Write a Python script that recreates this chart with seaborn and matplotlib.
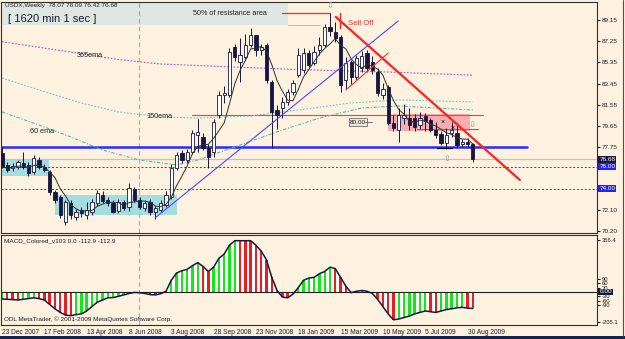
import numpy as np
import pandas as pd
import matplotlib
matplotlib.use('Agg')
import matplotlib.pyplot as plt
from matplotlib.patches import Rectangle
import seaborn as sns

# weekly USDX candles, 23 Dec 2007 .. 6 Sep 2009
opens = [77.2, 76.15, 75.9, 76.0, 76.3, 76.15, 75.5, 76.6, 76.0, 75.5,
         73.7, 73.3, 71.0, 72.7, 71.5, 72.1, 71.7, 71.9, 72.7, 73.5,
         73.0, 72.75, 72.0, 72.8, 72.4, 74.0, 73.0, 72.3, 72.8, 71.95,
         72.1, 72.6, 73.3, 75.9, 77.2, 76.6, 77.3, 78.85, 78.7, 77.7,
         77.3, 80.6, 82.4, 82.4, 86.7, 85.4, 85.8, 86.9, 87.8, 86.5,
         86.9, 83.6, 81.1, 81.3, 81.8, 82.7, 84.2, 84.7, 86.2, 85.3,
         86.5, 86.9, 88.5, 88.1, 87.6, 83.8, 85.4, 84.0, 84.8, 86.2,
         85.4, 84.5, 82.4, 83.1, 79.9, 79.3, 80.4, 80.4, 80.35, 79.7,
         80.5, 80.2, 79.3, 78.9, 78.1, 79.0, 79.05, 78.05, 78.2, 78.07]
highs = [77.8, 76.4, 76.3, 76.6, 77.3, 76.4, 77.0, 76.9, 76.2, 75.7,
         73.9, 73.5, 73.0, 73.0, 72.2, 72.4, 72.8, 73.1, 73.9, 73.8,
         73.3, 73.0, 73.1, 73.0, 74.5, 74.2, 73.3, 73.0, 73.1, 72.5,
         73.0, 73.8, 76.2, 77.3, 77.5, 77.6, 79.3, 80.3, 79.0, 78.0,
         80.3, 82.8, 83.2, 86.6, 87.0, 87.5, 87.9, 88.4, 87.8, 87.0,
         87.1, 83.8, 81.5, 82.2, 83.0, 83.8, 86.6, 86.6, 86.5, 86.8,
         87.6, 88.8, 89.8, 89.0, 87.8, 85.8, 85.6, 86.0, 86.4, 86.5,
         85.9, 84.8, 83.5, 83.3, 80.6, 81.3, 81.6, 81.3, 80.7, 80.9,
         80.8, 80.4, 80.0, 79.2, 79.5, 80.0, 79.8, 78.5, 78.6, 78.09]
lows = [75.9, 75.5, 75.6, 75.8, 75.8, 75.2, 75.3, 75.8, 75.5, 73.5,
        72.7, 71.4, 70.8, 71.3, 71.2, 71.5, 71.3, 71.7, 72.5, 72.7,
        72.5, 71.8, 71.8, 72.1, 72.0, 72.8, 72.2, 72.0, 71.7, 71.3,
        71.9, 72.4, 73.1, 75.7, 76.3, 76.3, 77.1, 77.3, 77.5, 75.9,
        76.9, 80.4, 81.7, 82.2, 85.5, 83.6, 85.6, 86.7, 85.9, 86.0,
        83.5, 77.7, 79.4, 80.4, 81.5, 82.4, 84.0, 84.4, 84.9, 85.1,
        86.0, 86.7, 87.7, 87.2, 82.7, 83.0, 83.4, 83.8, 84.5, 84.5,
        84.3, 82.3, 82.1, 79.7, 79.2, 78.2, 79.8, 79.3, 79.2, 79.4,
        79.2, 79.1, 78.6, 77.9, 77.6, 78.7, 77.7, 77.8, 77.8, 76.42]
closes = [76.0, 75.7, 76.1, 76.4, 75.95, 75.45, 76.75, 76.0, 75.7, 73.7,
          73.0, 71.7, 72.8, 71.7, 71.9, 71.8, 72.1, 72.8, 73.6, 72.9,
          72.7, 71.95, 72.8, 72.3, 74.1, 73.0, 72.4, 72.7, 71.9, 72.3,
          72.75, 73.45, 75.9, 77.05, 76.6, 77.3, 79.0, 79.1, 77.7, 76.9,
          80.0, 82.4, 82.6, 86.3, 85.8, 86.0, 86.9, 87.8, 86.5, 86.7,
          83.8, 80.9, 80.6, 81.8, 82.7, 83.5, 86.0, 86.2, 85.1, 86.3,
          86.9, 88.5, 88.2, 87.5, 83.3, 85.3, 84.0, 85.7, 85.9, 84.8,
          84.7, 82.6, 83.0, 79.9, 79.45, 80.6, 80.6, 79.7, 79.55, 80.4,
          80.1, 79.3, 78.85, 78.1, 78.85, 79.3, 77.9, 78.2, 78.07, 76.68]

# MACD main line per bar
macd = [-48, -50, -52, -55, -50, -45, -40, -45, -55, -85,
        -115, -140, -158, -162, -155, -150, -130, -100, -70, -55,
        -40, -38, -30, -20, -10, -3, -5, -10, -18, -20,
        -12, 5, 80, 130, 145, 155, 180, 201, 175, 140,
        170, 230, 260, 320, 351, 351, 351, 351, 320, 280,
        220, 100, 10, -35, -40, -15, 30, 80, 95, 100,
        125, 140, 170, 160, 100, 40, -5, 5, 10, 5,
        -10, -50, -100, -150, -190, -185, -175, -165, -150, -140,
        -130, -135, -140, -130, -120, -115, -108, -105, -110, -113]

# long moving averages (bar index, price)
ema365_x = [0, 14, 22, 30, 56, 72, 89]
ema365_y = [87.2, 86.2, 85.6, 85.2, 84.7, 84.5, 84.2]
ema150_x = [0, 7, 15, 22, 30, 37, 47, 56, 66, 75, 89]
ema150_y = [83.95, 82.87, 81.71, 80.9, 80.45, 80.36, 80.54, 81.08, 81.71, 81.98, 81.8]
ema60_x = [0, 7, 13, 19, 26, 33, 37, 45, 53, 60, 68, 75, 89]
ema60_y = [80.9, 79.73, 78.66, 77.49, 76.59, 76.15, 76.59, 77.94, 79.28, 80.36, 81.26, 81.44, 81.08]

date_ticks = [0, 8, 16, 24, 32, 40, 48, 56, 64, 72, 80, 88]
date_labels = ['23 Dec 2007', '17 Feb 2008', '13 Apr 2008', '8 Jun 2008', '3 Aug 2008',
               '28 Sep 2008', '23 Nov 2008', '18 Jan 2009', '15 Mar 2009', '10 May 2009',
               '5 Jul 2009', '30 Aug 2009']
price_ticks = [89.15, 87.25, 85.35, 83.45, 81.55, 79.65, 77.75, 72.10, 70.20]
macd_ticks = [356.4, 90, 60, 30, -30, -60, -90, -205.1]
macd_tick_labels = ['356.4', '90', '60', '30', '-30', '-60', '-90', '-205.1']

BG = '#fdf1df'
NAVY = '#16163e'

sns.set_style('white', {'axes.facecolor': BG, 'figure.facecolor': BG})
plt.rcParams['font.family'] = ['Liberation Sans', 'DejaVu Sans']

W, H = 625, 339
fig = plt.figure(figsize=(W / 100, H / 100), dpi=100, facecolor=BG)


def px_axes(x0, y0, x1, y1):
    return fig.add_axes([x0 / W, 1 - y1 / H, (x1 - x0) / W, (y1 - y0) / H])


ax = px_axes(1, 2, 597, 233)
mx = px_axes(1, 235, 597, 325)
xmin = -0.19
xmax = xmin + 596 / 5.29
for a in (ax, mx):
    a.set_facecolor(BG)
    a.set_xlim(xmin, xmax)
    for s in a.spines.values():
        s.set_color('#303030')
        s.set_linewidth(0.8)
ax.set_ylim(70.05, 90.76)
mx.set_ylim(-226, 390)

df = pd.DataFrame({'o': opens, 'h': highs, 'l': lows, 'c': closes})
df['i'] = np.arange(len(df))
df['ma'] = df['c'].rolling(5, min_periods=1).mean()

# boxes and zones behind the candles
ax.add_patch(Rectangle((xmin, 88.70), 54.1 - xmin, 90.76 - 88.70, fc='#dfe7e2', ec='none', zorder=0))
ax.plot([54, 60.1], [88.70, 88.70], color='#b8b8b8', lw=0.7)
ax.add_patch(Rectangle((-0.5, 75.16), 9.4, 76.68 - 75.16, fc='#a5dcdf', ec='none', zorder=1))
ax.add_patch(Rectangle((10.0, 71.66), 23.1, 73.45 - 71.66, fc='#a5dcdf', ec='none', zorder=1))
ax.add_patch(Rectangle((73.0, 79.2), 15.5, 1.5, fc='#f5a3a8', ec='none', alpha=0.85, zorder=1))

# horizontal levels
ax.axhline(76.68, color='#c9c2b9', lw=0.9, zorder=1)
ax.axhline(76.00, color='#3a3ae0', lw=0.7, ls=(0, (2, 2)), zorder=1)
ax.axhline(74.00, color='#3a3ae0', lw=0.7, ls=(0, (2, 2)), zorder=1)
ax.plot([35.9, 90.9], [80.65, 80.65], color='#f04040', lw=0.8, zorder=2)
ax.plot([78.4, 90.0], [79.37, 79.37], color='#f04040', lw=0.8, zorder=2)
ax.plot([0, 99.2], [77.76, 77.76], color='#2a2aff', lw=1.8, zorder=2)
ax.plot([52.9, 62.0], [89.78, 89.78], color='#f03030', lw=0.9, zorder=2)
ax.plot([82.2, 85.1], [77.70, 77.70], color='black', lw=0.9, zorder=4)
for a in (ax, mx):
    a.axvline(25.9, color='#a8a8a8', lw=0.8, ls=(0, (4, 3)), zorder=1)

# moving averages
sns.lineplot(x=ema365_x, y=ema365_y, ax=ax, color='#b050c8', lw=0.8, ls=(0, (1.5, 1.5)), zorder=2)
sns.lineplot(x=ema150_x, y=ema150_y, ax=ax, color='#6ccaca', lw=0.8, ls=(0, (1.5, 1.5)), zorder=2)
sns.lineplot(x=ema60_x, y=ema60_y, ax=ax, color='#5ab8a8', lw=0.8, ls=(0, (3, 1.5, 1, 1.5)), zorder=2)

# candles
ax.vlines(df['i'], df['l'], df['h'], color=NAVY, lw=0.7, zorder=3)
up = df['c'] >= df['o']
body_lo = np.minimum(df['o'], df['c'])
body_h = np.maximum(np.abs(df['c'] - df['o']), 0.06)
ax.bar(df['i'][up], body_h[up], bottom=body_lo[up], width=0.62, color='white',
       edgecolor=NAVY, linewidth=0.6, zorder=4)
ax.bar(df['i'][~up], body_h[~up], bottom=body_lo[~up], width=0.62, color=NAVY,
       edgecolor=NAVY, linewidth=0.6, zorder=4)
sns.lineplot(data=df, x='i', y='ma', ax=ax, color='#303030', lw=0.7, zorder=5)

# trend lines
ax.plot([63.1, 97.9], [89.42, 74.8], color='#ff2222', lw=1.6, zorder=6)
ax.plot([28.9, 74.9], [71.39, 89.06], color='#4a4aff', lw=0.8, zorder=6)
ax.plot([65.0, 73.0], [82.87, 86.19], color='#ff3030', lw=0.8, zorder=6)
ax.plot([63.9, 63.9], [89.78, 88.43], color='#ff2222', lw=1.0, zorder=6)

# chart annotations
ax.text(65.4, 88.85, 'Sell Off', color='#ee3333', fontsize=5.6, va='center', zorder=7)
ax.text(36.1, 89.69, '50% of resistance area', color='#202020', fontsize=5.2, va='center', zorder=7)
ax.text(14.2, 85.92, '365ema', color='#202020', fontsize=5.2, va='center')
ax.text(27.2, 80.45, '150ema', color='#202020', fontsize=5.2, va='center')
ax.text(5.3, 79.19, '60 ema', color='#202020', fontsize=5.2, va='center')
ax.text(65.8, 80.0, '80.00', color='#202020', fontsize=4.6, va='center',
        bbox=dict(boxstyle='square,pad=0.2', fc='#ece6dc', ec='#707070', lw=0.6), zorder=7)
ax.plot([68.7, 70.0], [80.0, 80.0], color='#707070', lw=0.7, zorder=7)
ax.text(62.0, 90.35, '\u21e9', family=['DejaVu Sans'], color='#909090', fontsize=6, ha='center', va='center', zorder=7)
ax.text(88.8, 79.73, '\u21e9', family=['DejaVu Sans'], color='#909090', fontsize=6, ha='center', va='center', zorder=7)
ax.text(84.1, 76.77, '\u21e7', family=['DejaVu Sans'], color='#909090', fontsize=6, ha='center', va='center', zorder=7)
ax.text(83.2, 80.0, '\u00d7', color='black', fontsize=5, ha='center', va='center', zorder=7)
ax.text(85.1, 79.46, '\u00d7', color='black', fontsize=5, ha='center', va='center', zorder=7)

# price axis
ax.yaxis.tick_right()
ax.set_yticks(price_ticks)
ax.set_yticklabels([f'{p:.2f}' for p in price_ticks])
ax.tick_params(axis='y', labelsize=4.6, length=2, pad=1.5, colors='#202020', right=True, left=False)
ax.set_xticks([])
ax.set_xlabel('')
ax.set_ylabel('')
yt = ax.get_yaxis_transform()
ax.text(1.004, 76.68, '76.68', transform=yt, color='white', fontsize=4.6, va='center',
        bbox=dict(boxstyle='square,pad=0.15', fc='#1a1a40', ec='none'))
ax.text(1.004, 76.00, '76.00', transform=yt, color='white', fontsize=4.6, va='center',
        bbox=dict(boxstyle='square,pad=0.15', fc='#2424e8', ec='none'))
ax.text(1.004, 74.00, '74.00', transform=yt, color='white', fontsize=4.6, va='center',
        bbox=dict(boxstyle='square,pad=0.15', fc='#2424e8', ec='none'))

# MACD histogram: white slot with a thin coloured stripe
mdf = pd.DataFrame({'i': np.arange(len(macd)), 'v': macd})
rising = mdf['v'].diff().fillna(1) > 0
mx.bar(mdf['i'], mdf['v'], width=1.0, color='white', linewidth=0, zorder=1)
mx.bar(mdf['i'], mdf['v'], width=0.45, color=np.where(rising, '#12e812', '#ee1c1c'), linewidth=0, zorder=2)
mx.axhline(0, color='#202020', lw=0.8, zorder=3)
sns.lineplot(data=mdf, x='i', y='v', ax=mx, color=NAVY, lw=1.1, zorder=4)
mx.yaxis.tick_right()
mx.set_yticks(macd_ticks)
mx.set_yticklabels(macd_tick_labels)
mx.tick_params(axis='y', labelsize=4.2, length=2, pad=1.5, colors='#202020', right=True, left=False)
mx.set_xticks(date_ticks)
mx.set_xticklabels(date_labels, ha='left')
mx.tick_params(axis='x', labelsize=4.8, length=2, pad=1, colors='#202020')
mx.set_xlabel('')
mx.set_ylabel('')
mx.text(1.004, 0, '0.00', transform=mx.get_yaxis_transform(), color='white', fontsize=4.6,
        va='center', bbox=dict(boxstyle='square,pad=0.15', fc='#1a1a40', ec='none'))
mx.text(0.005, 0.93, 'MACD_Colored_v103 0.0 -112.9 -112.9', transform=mx.transAxes,
        fontsize=4.6, color='#202020', va='center')
mx.text(0.005, 0.06, 'ODL MetaTrader, \u00a9 2001-2009 MetaQuotes Software Corp.', transform=mx.transAxes,
        fontsize=4.6, color='#202020', va='center')

# header texts
fig.text(5 / W, 1 - 6 / H, 'USDX,Weekly  78.07 78.09 76.42 76.68', fontsize=4.6, color='#202020', va='center')
fig.text(8 / W, 1 - 19 / H, '[ 1620 min 1 sec ]', fontsize=8, color='#1a1a30', va='center')

# frame bits
fig.add_artist(Rectangle((0, 0), 1, 3 / H, transform=fig.transFigure, fc='#1a2050', ec='none'))
fig.add_artist(plt.Line2D([623 / W, 623 / W], [3 / H, 1], transform=fig.transFigure, color='#505050', lw=0.8))

fig.savefig('out.png', dpi=100, facecolor=BG)
